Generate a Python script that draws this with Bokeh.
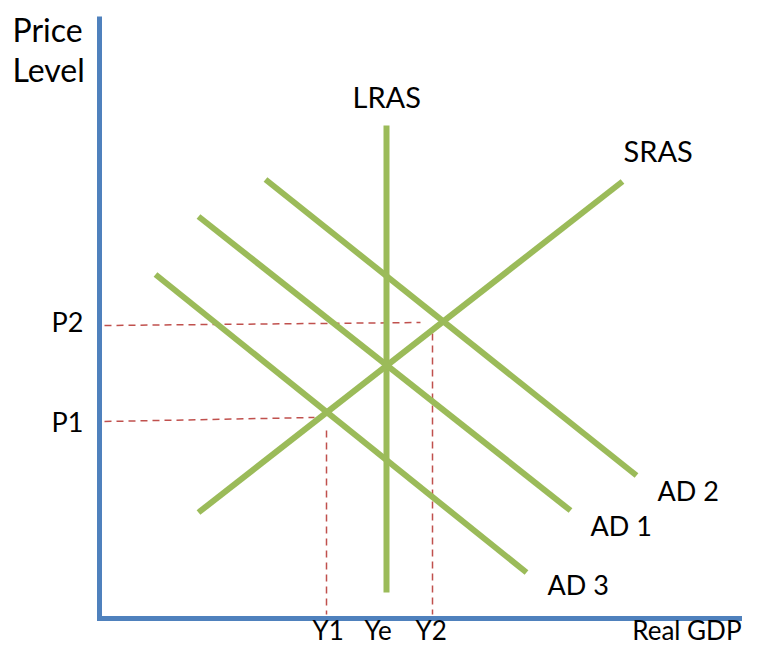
from bokeh.plotting import figure
from bokeh.models import Range1d, ColumnDataSource
from bokeh.core.properties import value
from bokeh.embed import file_html
from bokeh.resources import INLINE

# Diagram coordinates (x to the right, y downward as in the picture)
axis_x = [99, 99, 742]
axis_y = [16, 618, 618]

curve_names = ["LRAS", "SRAS", "AD 2", "AD 1", "AD 3"]
curve_x0 = [386, 198, 265, 198, 155]
curve_y0 = [125, 512, 179, 216, 274]
curve_x1 = [386, 622, 636, 570, 526]
curve_y1 = [592, 181, 475, 510, 572]

guide_names = ["P2", "P1", "Y1", "Y2"]
guide_x0 = [104, 104, 326, 432]
guide_y0 = [325, 421, 430, 333]
guide_x1 = [420, 314, 326, 432]
guide_y1 = [322, 417, 614, 614]

# label anchor points (text baselines)
title_text = ["Price", "Level"]
title_x = [12, 12]
title_y = [43, 83]

curve_label_text = ["LRAS", "SRAS"]
curve_label_x = [352, 623]
curve_label_y = [108, 162]

label_text = ["P2", "P1", "AD 2", "AD 1", "AD 3"]
label_x = [51, 51, 657, 590, 547]
label_y = [333, 433, 502, 537, 596]

xtick_text = ["Y1", "Ye", "Y2"]
xtick_x = [312, 364, 415]
xtick_y = [641, 641, 641]

xlabel_text = ["Real GDP"]
xlabel_x = [741]
xlabel_y = [641]

p = figure(width=742, height=648, x_range=Range1d(0, 742), y_range=Range1d(648, 0),
           output_backend="svg", toolbar_location=None, min_border=0)
p.axis.visible = False
p.grid.visible = False
p.outline_line_color = None
p.background_fill_color = "white"

# guide dashed lines
p.segment(x0=guide_x0, y0=guide_y0, x1=guide_x1, y1=guide_y1,
          line_color="#C0504D", line_width=1.5, line_dash="7 5")

# axes
p.line(axis_x, axis_y, line_color="#4F81BD", line_width=5, line_join="miter")

# curves
src = ColumnDataSource(dict(x0=curve_x0, y0=curve_y0, x1=curve_x1, y1=curve_y1, name=curve_names))
p.segment(x0="x0", y0="y0", x1="x1", y1="y1", source=src,
          line_color="#9BBB59", line_width=6)

font = value("Lato")


def add_text(xs, ys, texts, size, align="left"):
    # the svg text is drawn about 0.43 em below the requested baseline
    shift = 0.43 * size
    p.text(x=xs, y=[y - shift for y in ys], text=texts, text_font=font,
           text_font_size=f"{size}px", text_color="black",
           text_baseline="alphabetic", text_align=align)


add_text(title_x, title_y, title_text, 32)
add_text(curve_label_x, curve_label_y, curve_label_text, 29)
add_text(label_x, label_y, label_text, 27)
add_text(xtick_x, xtick_y, xtick_text, 26)
add_text(xlabel_x, xlabel_y, xlabel_text, 26, align="right")

open("out.html", "w").write(file_html(p, INLINE))
